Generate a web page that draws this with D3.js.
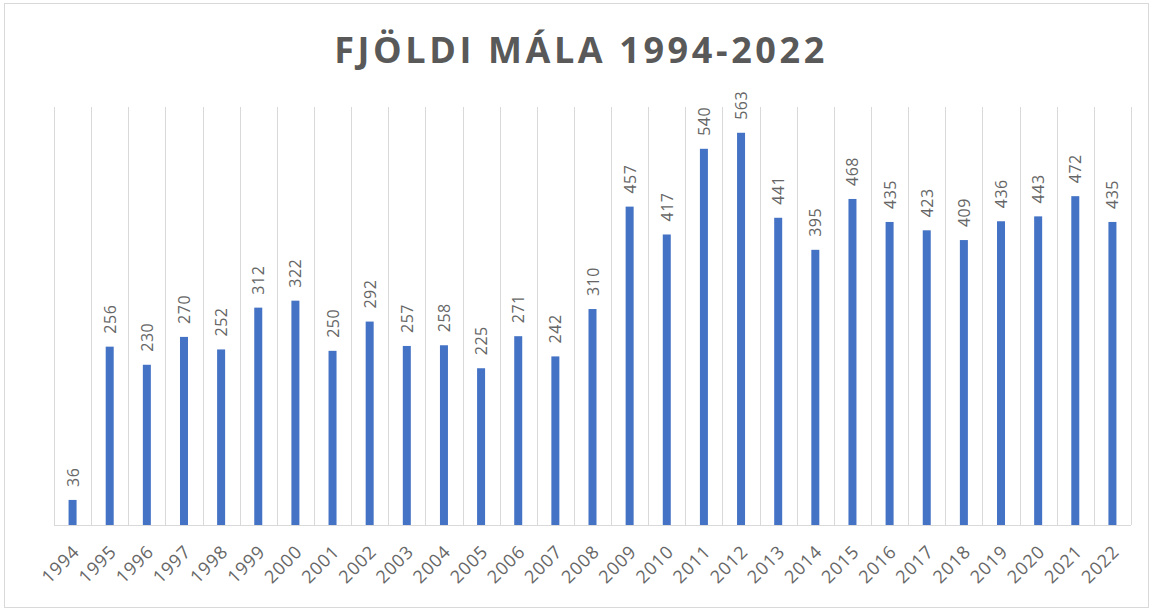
<!DOCTYPE html>
<html>
<head>
<meta charset="utf-8">
<script src="https://cdn.jsdelivr.net/npm/d3@7"></script>
<style>
  body { margin: 0; background: #fff; }
  text { font-family: "Open Sans", "DejaVu Sans", sans-serif; }
</style>
</head>
<body>
<svg id="chart" width="1153" height="612"></svg>
<script>
const years = ["1994","1995","1996","1997","1998","1999","2000","2001","2002","2003","2004","2005","2006","2007","2008","2009","2010","2011","2012","2013","2014","2015","2016","2017","2018","2019","2020","2021","2022"]
const cases = [36,256,230,270,252,312,322,250,292,257,258,225,271,242,310,457,417,540,563,441,395,468,435,423,409,436,443,472,435]
const yMax = 600

const width = 1153, height = 612
const marginLeft = 54, marginRight = 22, marginTop = 107, marginBottom = 87

const svg = d3.select('#chart')

// outer frame
svg.append('rect')
  .attr('x', 4.5).attr('y', 3.5)
  .attr('width', width - 9).attr('height', height - 8)
  .attr('fill', 'white').attr('stroke', '#d9d9d9')

svg.append('text')
  .attr('x', 581).attr('y', 63)
  .attr('text-anchor', 'middle')
  .attr('fill', '#595959')
  .attr('font-size', 36)
  .attr('font-weight', 'bold')
  .attr('letter-spacing', 3.6)
  .text('FJÖLDI MÁLA 1994-2022')

const x = d3.scaleBand(years, [marginLeft, width - marginRight])
const y = d3.scaleLinear([0, yMax], [height - marginBottom, marginTop])

// vertical gridlines at category edges
const edges = years.map(d => x(d)).concat([x.range()[1]])
svg.append('g')
  .selectAll('line')
  .data(edges)
  .join('line')
  .attr('x1', d => Math.round(d) + 0.5).attr('x2', d => Math.round(d) + 0.5)
  .attr('y1', y(yMax)).attr('y2', y(0))
  .attr('stroke', '#d9d9d9')

// baseline
svg.append('line')
  .attr('x1', x.range()[0]).attr('x2', x.range()[1])
  .attr('y1', y(0) + 0.5).attr('y2', y(0) + 0.5)
  .attr('stroke', '#d9d9d9')

const barW = 8
svg.append('g')
  .selectAll('rect')
  .data(years)
  .join('rect')
  .attr('x', (d, i) => x(d) + x.bandwidth() / 2 - barW / 2)
  .attr('y', (d, i) => y(cases[i]))
  .attr('width', barW)
  .attr('height', (d, i) => y(0) - y(cases[i]))
  .attr('fill', '#4472c4')

// data labels
svg.append('g')
  .selectAll('text')
  .data(years)
  .join('text')
  .attr('transform', (d, i) => `translate(${x(d) + x.bandwidth() / 2 + 6}, ${y(cases[i]) - 13}) rotate(-90)`)
  .attr('fill', '#666')
  .attr('font-size', 16)
  .attr('letter-spacing', 0.5)
  .text((d, i) => cases[i])

// x axis labels
const xAxis = d3.axisBottom(x).tickSize(0).tickPadding(0)
const gx = svg.append('g')
  .attr('transform', `translate(0, ${y(0)})`)
  .call(xAxis)
gx.select('.domain').remove()
gx.selectAll('text')
  .attr('font-size', 18)
  .attr('letter-spacing', 0.8)
  .attr('fill', '#666')
  .attr('text-anchor', 'end')
  .attr('dy', null)
  .attr('y', null)
  .attr('transform', 'translate(8, 28) rotate(-45)')
</script>
</body>
</html>
